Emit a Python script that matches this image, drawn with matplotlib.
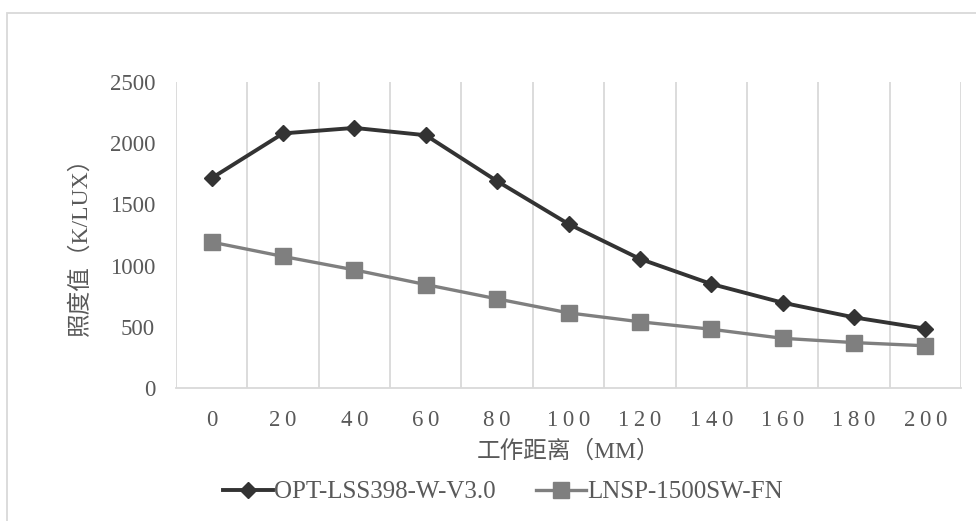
import matplotlib
matplotlib.use("Agg")
import matplotlib.pyplot as plt
from matplotlib.patches import Rectangle

# Chart data
distance_mm = [0, 20, 40, 60, 80, 100, 120, 140, 160, 180, 200]
opt_lss398 = [1715, 2080, 2125, 2065, 1690, 1340, 1055, 850, 697, 577, 485]
lnsp_1500sw = [1192, 1075, 965, 845, 728, 614, 541, 480, 406, 371, 345]
series_names = ["OPT-LSS398-W-V3.0", "LNSP-1500SW-FN"]
y_ticks = [0, 500, 1000, 1500, 2000, 2500]

# Styling
TEXT_COLOR = "#595959"
GRID_COLOR = "#d9d9d9"
SERIF = ["Liberation Serif", "DejaVu Serif"]
MIXED = ["Liberation Serif", "Noto Sans CJK SC", "DejaVu Sans"]

W, H = 976, 521


def spaced(n):
    # Excel draws the category labels with a little letter spacing
    return "\u2009".join(str(n))


def main():
    fig = plt.figure(figsize=(W / 100, H / 100), dpi=100)

    # outer chart border (cut off at right and bottom in the original)
    fig.patches.append(Rectangle((7 / W, -0.1), 1.2, 1 - 13 / H + 0.1,
                                 transform=fig.transFigure, fill=False,
                                 edgecolor=GRID_COLOR, linewidth=1.3))

    left, right, top, bottom = 176, 961, 82, 388
    ax = fig.add_axes([left / W, 1 - bottom / H, (right - left) / W, (bottom - top) / H])

    x = list(range(len(distance_mm)))
    ax.plot(x, opt_lss398, color="#333333", linewidth=2.8, marker="D",
            markersize=8.5, label=series_names[0], zorder=3)
    ax.plot(x, lnsp_1500sw, color="#7f7f7f", linewidth=2.4, marker="s",
            markersize=11, label=series_names[1], zorder=2)

    ax.set_xlim(-0.5, len(x) - 0.5)
    ax.set_ylim(0, 2500)

    # vertical gridlines between categories
    ax.set_xticks([i - 0.5 for i in range(len(x) + 1)], minor=True)
    ax.grid(True, which="minor", axis="x", color=GRID_COLOR, linewidth=1.3)
    ax.tick_params(axis="x", which="minor", length=0)

    ax.set_xticks(x)
    ax.set_xticklabels([spaced(d) for d in distance_mm], family=SERIF,
                       fontsize=16.5, color=TEXT_COLOR)
    ax.set_yticks(y_ticks)
    ax.set_yticklabels([str(v) for v in y_ticks], family=SERIF,
                       fontsize=16.5, color=TEXT_COLOR)
    ax.tick_params(axis="x", which="major", length=0, pad=16)
    ax.tick_params(axis="y", length=0, pad=15)

    for side in ["left", "right", "top"]:
        ax.spines[side].set_visible(False)
    ax.spines["bottom"].set_color(GRID_COLOR)
    ax.spines["bottom"].set_linewidth(1.3)

    # axis titles
    fig.text(569 / W, 1 - 451 / H, "工作距离（MM）", ha="center", va="center",
             family=MIXED, fontsize=17, color=TEXT_COLOR)
    fig.text(80 / W, 1 - 241 / H, "照度值（K/LUX）", ha="center", va="center",
             rotation=90, family=MIXED, fontsize=17, color=TEXT_COLOR)

    leg = fig.legend(loc="center", bbox_to_anchor=(503 / W, 1 - 492 / H), ncol=2,
                     frameon=False, handlelength=2.0, handletextpad=0.05,
                     columnspacing=1.6, prop={"family": SERIF, "size": 18})
    for t in leg.get_texts():
        t.set_color(TEXT_COLOR)

    fig.savefig("out.png", dpi=100, facecolor="white")


if __name__ == "__main__":
    main()
